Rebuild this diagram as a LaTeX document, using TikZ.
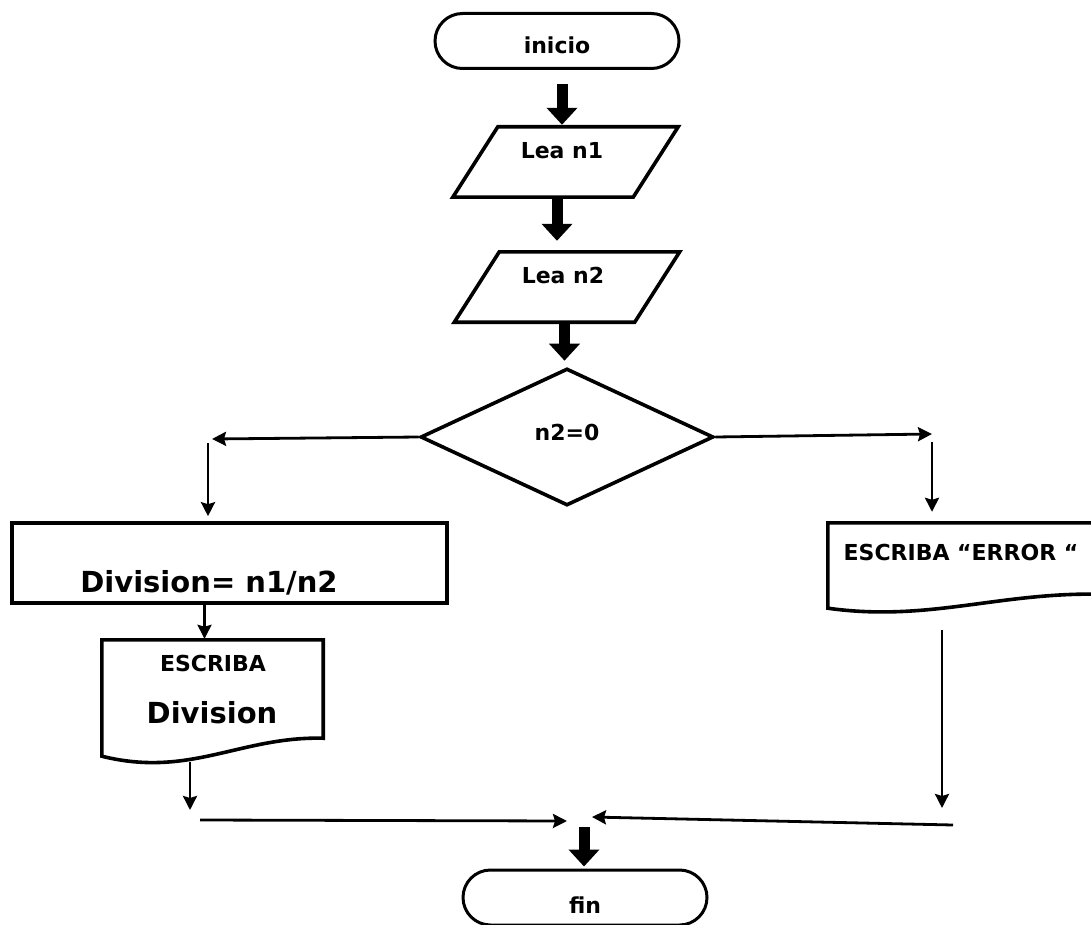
\documentclass[tikz,border=0pt]{standalone}
\usepackage{fontspec}
\setmainfont{DejaVu Sans}
\usetikzlibrary{arrows.meta,shapes.geometric,shapes.misc}
\begin{document}
\begin{tikzpicture}[x=1pt,y=-1pt,
  outline/.style={draw=black,line width=3.6pt,line join=miter},
  term/.style={outline,line width=3pt,rounded rectangle,minimum width=244pt,minimum height=55pt,inner sep=0pt},
  hollow/.style={rectangle,draw=none,inner sep=0pt},
  small/.style={font=\bfseries\fontsize{22}{26}\selectfont,inner sep=0pt},
  large/.style={font=\bfseries\fontsize{29}{34}\selectfont,inner sep=0pt},
  bigflow/.style={line width=11pt,-{Triangle[width=30pt,length=17pt]}},
  flow/.style={line width=2.8pt,-{Stealth[width=14pt,length=14pt,inset=2pt]}},
]
\useasboundingbox (0,0) rectangle (1091,925);
\fill[white] (0,0) rectangle (1091,925);

% terminals
\node[term,small,text height=26pt,text depth=0pt] (start) at (557,41) {inicio};
\node[term,small,text height=31pt,text depth=0pt] (stop) at (585,897.5) {fin};

% input parallelograms
\node[hollow,minimum width=180pt,minimum height=70pt] (in1) at (565,162) {};
\draw[outline] ([xshift=23pt]in1.north west) -- ([xshift=23pt]in1.north east)
  -- ([xshift=-22pt]in1.south east) -- ([xshift=-22pt]in1.south west) -- cycle;
\node[small] (t1) at (562,151) {Lea n1};

\node[hollow,minimum width=180pt,minimum height=70pt] (in2) at (566.5,287) {};
\draw[outline] ([xshift=23pt]in2.north west) -- ([xshift=23pt]in2.north east)
  -- ([xshift=-22pt]in2.south east) -- ([xshift=-22pt]in2.south west) -- cycle;
\node[small] (t2) at (563,275) {Lea n2};

% decision
\node[outline,diamond,minimum width=293pt,minimum height=137pt,inner sep=0pt,
      small,text height=16pt,text depth=10pt] (dec) at (567,437) {n2=0};

% process
\node[outline,rectangle,minimum width=435pt,minimum height=80pt] (div) at (229.5,563) {};
\node[large] (t3) at (209,583) {Division= n1/n2};

% output documents
\node[hollow,minimum width=221pt,minimum height=116pt] (out1) at (212.5,698) {};
\draw[outline] ([yshift=18pt]out1.south east) -- (out1.north east) -- (out1.north west)
  -- (out1.south west) .. controls +(88,22) and +(-83,-2) .. ([yshift=18pt]out1.south east) -- cycle;
\node[small] (t4) at (213,663) {ESCRIBA};
\node[large] (t5) at (212,713) {Division};

\node[hollow,minimum width=272pt,minimum height=85pt] (out2) at (964,565.5) {};
\draw[outline] ([yshift=14pt]out2.south east) -- (out2.north east) -- (out2.north west)
  -- (out2.south west) .. controls +(100,14) and +(-102,-2) .. ([yshift=14pt]out2.south east) -- cycle;
\node[small] (t6) at (961,552) {ESCRIBA “ERROR “};

% main trunk
\draw[bigflow,shorten <=14pt,shorten >=2pt] ([xshift=5pt]start.south) -- ([xshift=5pt]start.south |- in1.north);
\draw[bigflow,shorten <=2pt,shorten >=11pt] ([xshift=-8pt]in1.south) -- ([xshift=-8pt]in1.south |- in2.north);
\draw[bigflow,shorten <=1pt,shorten >=6pt] ([xshift=-2pt]in2.south) -- ([xshift=-2pt]in2.south |- dec.north);

% left branch
\coordinate (yesTip) at (212,439);
\draw[flow] (dec.west) -- (yesTip);
\coordinate (yesDrop) at (208,443);
\draw[flow,shorten >=5pt] (yesDrop) -- (yesDrop |- div.north);
\draw[flow,shorten >=1pt] ([xshift=-25pt]div.south) -- ([xshift=-25pt]div.south |- out1.north);
\coordinate (a1) at (190,762);
\coordinate (a2) at (190,810);
\draw[flow] (a1) -- (a2);
\coordinate (b1) at (200,820);
\coordinate (b2) at (567,821);
\draw[flow] (b1) -- (b2);

% right branch
\coordinate (noTip) at (932,434);
\draw[flow] (dec.east) -- (noTip);
\coordinate (noDrop) at (932,442);
\draw[flow,shorten >=11pt] (noDrop) -- (noDrop |- out2.north);
\coordinate (c1) at (942,630);
\coordinate (c2) at (942,808);
\draw[flow] (c1) -- (c2);
\coordinate (d1) at (953,825);
\coordinate (d2) at (592,817);
\draw[flow] (d1) -- (d2);

% merge into end
\coordinate (merge) at (584,827);
\draw[bigflow,shorten >=2pt] (merge) -- (merge |- stop.north);
\end{tikzpicture}
\end{document}
